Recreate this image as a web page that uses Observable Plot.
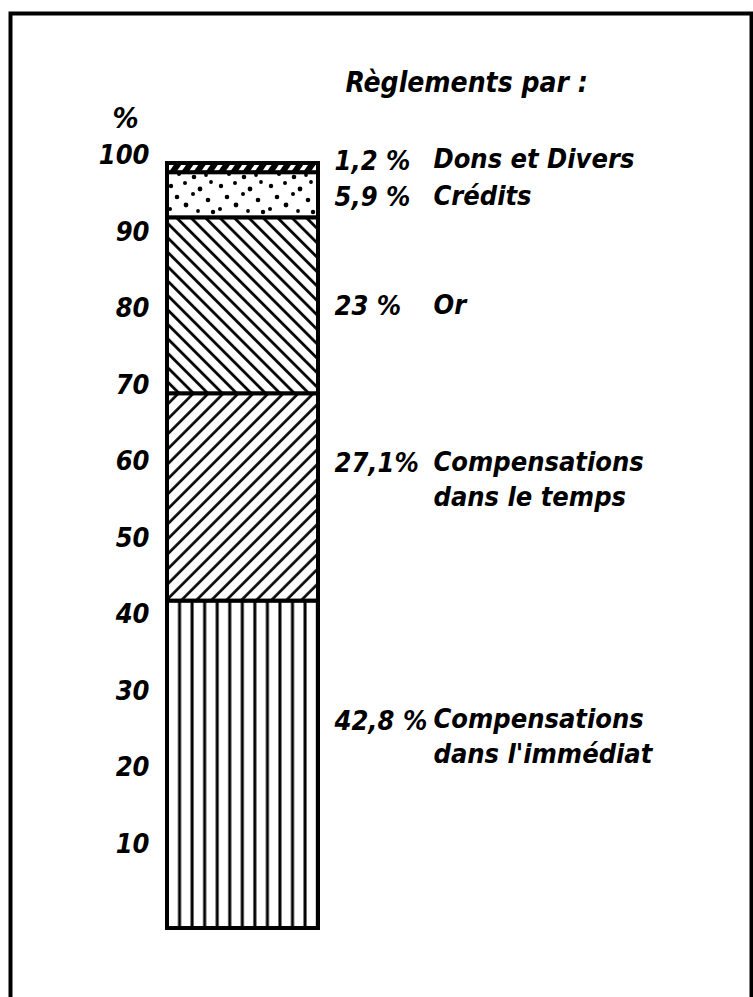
<!DOCTYPE html>
<html>
<head>
<meta charset="utf-8">
<script src="https://cdn.jsdelivr.net/npm/d3@7"></script>
<script src="https://cdn.jsdelivr.net/npm/@observablehq/plot@0.6"></script>
<style>
  html, body { margin: 0; padding: 0; background: #fff; }
  #defs { position: absolute; width: 0; height: 0; }
  #chart svg { display: block; }
</style>
</head>
<body>
<svg id="defs" width="0" height="0">
  <defs>
    <pattern id="pat-vert" patternUnits="userSpaceOnUse" x="167" y="0" width="12.55" height="10">
      <rect width="12.55" height="10" fill="#fff"/>
      <line x1="0" y1="0" x2="0" y2="10" stroke="#000" stroke-width="3"/>
      <line x1="12.55" y1="0" x2="12.55" y2="10" stroke="#000" stroke-width="3"/>
    </pattern>
    <pattern id="pat-slash" patternUnits="userSpaceOnUse" width="10.6" height="10" patternTransform="rotate(45)">
      <rect width="10.6" height="10" fill="#fff"/>
      <line x1="1.5" y1="0" x2="1.5" y2="10" stroke="#000" stroke-width="2.6"/>
    </pattern>
    <pattern id="pat-back" patternUnits="userSpaceOnUse" width="10.2" height="10" patternTransform="rotate(-45)">
      <rect width="10.2" height="10" fill="#fff"/>
      <line x1="1.5" y1="0" x2="1.5" y2="10" stroke="#000" stroke-width="2.8"/>
    </pattern>
    <pattern id="pat-dense" patternUnits="userSpaceOnUse" width="10" height="10" patternTransform="rotate(35)">
      <rect width="10" height="10" fill="#000"/>
      <line x1="5" y1="0" x2="5" y2="10" stroke="#fff" stroke-width="4"/>
    </pattern>
    <pattern id="pat-dots" patternUnits="userSpaceOnUse" x="167" y="180" width="50" height="44">
      <rect width="50" height="44" fill="#fff"/>
      <g fill="#000">
        <circle cx="4" cy="6" r="2.2"/>
        <circle cx="18" cy="3" r="2.0"/>
        <circle cx="33" cy="9" r="2.4"/>
        <circle cx="44" cy="2" r="1.9"/>
        <circle cx="10" cy="17" r="2.3"/>
        <circle cx="26" cy="14" r="2.0"/>
        <circle cx="41" cy="20" r="2.3"/>
        <circle cx="3" cy="29" r="2.0"/>
        <circle cx="19" cy="25" r="2.4"/>
        <circle cx="31" cy="31" r="1.9"/>
        <circle cx="46" cy="32" r="2.2"/>
        <circle cx="12" cy="38" r="2.0"/>
        <circle cx="27" cy="41" r="2.3"/>
        <circle cx="39" cy="39" r="1.9"/>
      </g>
    </pattern>
  </defs>
</svg>
<div id="chart"></div>
<script>
// ---- data (bottom of the bar first) ----
const categories = ["Compensations dans l'immédiat", "Compensations dans le temps", "Or", "Crédits", "Dons et Divers"];
const values = [42.8, 27.1, 23, 5.9, 1.2];
const pctLabels = ["42,8 %", "27,1%", "23 %", "5,9 %", "1,2 %"];
const nameLabels = ["Compensations\ndans l'immédiat", "Compensations\ndans le temps", "Or", "Crédits", "Dons et Divers"];
const labelAt = [27.2, 60.9, 81.4, 95.6, 100.4];   // where each label row sits on the % scale
const tickLabels = [10, 20, 30, 40, 50, 60, 70, 80, 90, 100];
const title = "Règlements par :";
const unit = "%";

// ---- styling ----
const fills = ["url(#pat-vert)", "url(#pat-slash)", "url(#pat-back)", "url(#pat-dots)", "url(#pat-dense)"];
const rows = categories.map((c, i) => ({
  bar: "total", category: c, value: values[i], pct: pctLabels[i],
  name: nameLabels[i], at: labelAt[i], fill: fills[i]
}));

const FONT = "'DejaVu Sans Condensed', 'DejaVu Sans', sans-serif";
const FS = 27;
const FW = "bold";

const chart = Plot.plot({
  width: 753,
  height: 997,
  margin: 0,
  style: { fontFamily: FONT, fontStyle: "italic", fontStretch: "condensed", background: "#fff", color: "#000" },
  x: { type: "band", domain: ["total"], range: [167, 318], padding: 0, axis: null },
  y: { domain: [0, 100], range: [928, 163], axis: null },
  color: { type: "identity" },
  marks: [
    Plot.frame({ insetLeft: 10, insetTop: 13, insetRight: 2, insetBottom: -20, stroke: "#000", strokeWidth: 4 }),
    Plot.barY(rows, Plot.stackY({ x: "bar", y: "value", fill: "fill", order: null, stroke: "#000", strokeWidth: 4, inset: 0 })),
    Plot.text(tickLabels, { y: d => d, text: d => String(d), frameAnchor: "left", dx: 149, dy: -8, textAnchor: "end", fontSize: FS, fontStyle: "italic", fontWeight: FW }),
    Plot.text([unit], { text: d => d, frameAnchor: "top-left", dx: 125, dy: 118, textAnchor: "middle", lineAnchor: "middle", fontSize: 29, fontStyle: "italic", fontWeight: FW }),
    Plot.text([title], { text: d => d, frameAnchor: "top-left", dx: 345, dy: 83, textAnchor: "start", lineAnchor: "middle", fontSize: 28, fontStyle: "italic", fontWeight: FW }),
    Plot.text(rows, { y: "at", text: "pct", frameAnchor: "left", dx: 334, dy: -10, textAnchor: "start", lineAnchor: "top", fontSize: FS, fontStyle: "italic", fontWeight: FW }),
    Plot.text(rows, { y: "at", text: "name", frameAnchor: "left", dx: 433, dy: -17, textAnchor: "start", lineAnchor: "top", lineHeight: 1.3, fontSize: FS, fontStyle: "italic", fontWeight: FW })
  ]
});
document.getElementById("chart").appendChild(chart);
</script>
</body>
</html>
